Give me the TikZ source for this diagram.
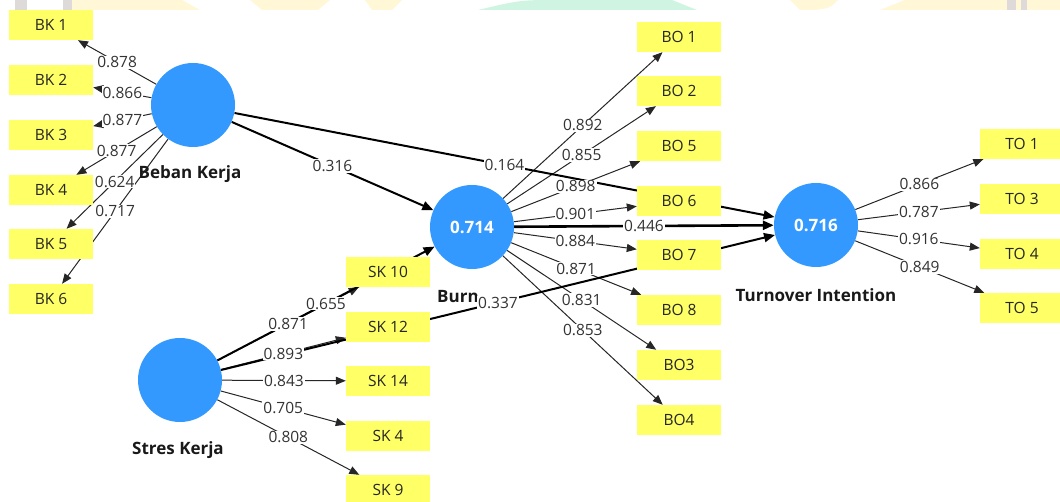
\documentclass[tikz,border=0pt]{standalone}
\usepackage{fontspec}
\setmainfont{Open Sans}
\usetikzlibrary{arrows.meta}
\pgfdeclarelayer{wm}
\pgfdeclarelayer{bg}
\pgfsetlayers{wm,bg,main}
\definecolor{lvblue}{HTML}{3399FF}
\definecolor{indyellow}{HTML}{FFFF66}
\definecolor{wmgray}{HTML}{DEDADA}
\definecolor{wmyellow}{HTML}{FFF7D6}
\definecolor{wmmint}{HTML}{CFF5E2}
\begin{document}
\begin{tikzpicture}[x=1pt,y=-1pt,
  lvnode/.style={circle,fill=lvblue,minimum size=84pt,inner sep=0pt,
    text=white,font=\bfseries\fontsize{17}{20}\selectfont},
  indbox/.style={rectangle,fill=indyellow,minimum width=84pt,minimum height=30pt,
    inner sep=0pt,text=black!85,font=\fontsize{15.5}{18}\selectfont},
  lvcaption/.style={inner sep=0pt,text=black!90,font=\bfseries\fontsize{17}{20}\selectfont},
  lbl/.style={fill=white,inner sep=1pt,text=black!80,font=\fontsize{15.5}{18}\selectfont},
  loadline/.style={line width=1pt,draw=black!85,-{Triangle[length=10pt,width=8pt]}},
  pathline/.style={line width=2pt,draw=black,-{Triangle[length=11pt,width=9pt]}},
]
\useasboundingbox (0,0) rectangle (1060,502);

% faint letterhead band along the top edge
\begin{pgfonlayer}{wm}
  \fill[wmyellow] (72,0) -- (182,0) -- (200,10) -- (72,10) -- cycle;
  \fill[wmyellow] (250,0) -- (330,0) -- (318,10) -- (262,10) -- cycle;
  \fill[wmyellow] (365,0) -- (402,0) -- (392,10) -- (372,10) -- cycle;
  \fill[wmmint] (478,10) .. controls (520,0) .. (560,0) -- (672,0) -- (697,10) -- cycle;
  \fill[wmyellow] (790,0) -- (838,0) .. controls (830,8) .. (815,10) -- (800,10) -- cycle;
  \fill[wmyellow] (880,10) -- (905,0) -- (1060,0) -- (1060,10) -- cycle;
  \fill[wmgray] (15,0) rectangle (27,10);
  \fill[wmgray] (63,0) rectangle (72,10);
  \fill[wmgray] (1007,0) rectangle (1016,10);
  \fill[wmgray] (1021,0) rectangle (1027,10);
\end{pgfonlayer}

% latent variables
\node[lvnode] (BKc) at (193,105) {};
\node[lvnode] (BO)  at (472,227) {0.714};
\node[lvnode] (TI)  at (816,225) {0.716};
\node[lvnode] (SKc) at (180,380) {};

\node[lvcaption] (capBK) at (190,174) {Beban Kerja};
\node[lvcaption,anchor=west] (capBO) at (437,297) {Burn};
\node[lvcaption] (capTI) at (816,295) {Turnover Intention};
\node[lvcaption] (capSK) at (178,450) {Stres Kerja};

% indicators
\foreach \n/\y in {1/25,2/80,3/135,4/190,5/244,6/299}
  \node[indbox] (BK\n) at (51,\y) {BK \n};
\foreach \n/\y in {10/272,12/327,14/381,4/436,9/490}
  \node[indbox] (SK\n) at (388,\y) {SK \n};
\node[indbox] (BO1) at (679,37)  {BO 1};
\node[indbox] (BO2) at (679,91)  {BO 2};
\node[indbox] (BO5) at (679,146) {BO 5};
\node[indbox] (BO6) at (679,201) {BO 6};
\node[indbox] (BO7) at (679,255) {BO 7};
\node[indbox] (BO8) at (679,310) {BO 8};
\node[indbox] (BO3) at (679,365) {BO3};
\node[indbox] (BO4) at (679,420) {BO4};
\foreach \n/\y in {1/144,3/199,4/254,5/308}
  \node[indbox] (TO\n) at (1022,\y) {TO \n};

% outer loadings
\foreach \src/\dst/\val in {
  BKc/BK1/0.878, BKc/BK2/0.866, BKc/BK3/0.877, BKc/BK4/0.877, BKc/BK5/0.624, BKc/BK6/0.717,
  SKc/SK10/0.871, SKc/SK12/0.893, SKc/SK14/0.843, SKc/SK4/0.705, SKc/SK9/0.808,
  BO/BO1/0.892, BO/BO2/0.855, BO/BO5/0.898, BO/BO6/0.901, BO/BO7/0.884, BO/BO8/0.871,
  BO/BO3/0.831, BO/BO4/0.853,
  TI/TO1/0.866, TI/TO3/0.787, TI/TO4/0.916, TI/TO5/0.849}
{
  \begin{pgfonlayer}{bg}
    \draw[loadline] (\src) -- (\dst);
  \end{pgfonlayer}
  \path (\src) -- node[lbl] {\val} (\dst);
}

% path coefficients
\foreach \src/\dst/\val/\w in {BKc/BO/0.316/2, BKc/TI/0.164/2, SKc/BO/0.655/2,
  SKc/TI/0.337/2, BO/TI/0.446/2.6}
{
  \begin{pgfonlayer}{bg}
    \draw[pathline,line width=\w pt] (\src) -- (\dst);
  \end{pgfonlayer}
  \path (\src) -- node[lbl] {\val} (\dst);
}
\end{tikzpicture}
\end{document}
